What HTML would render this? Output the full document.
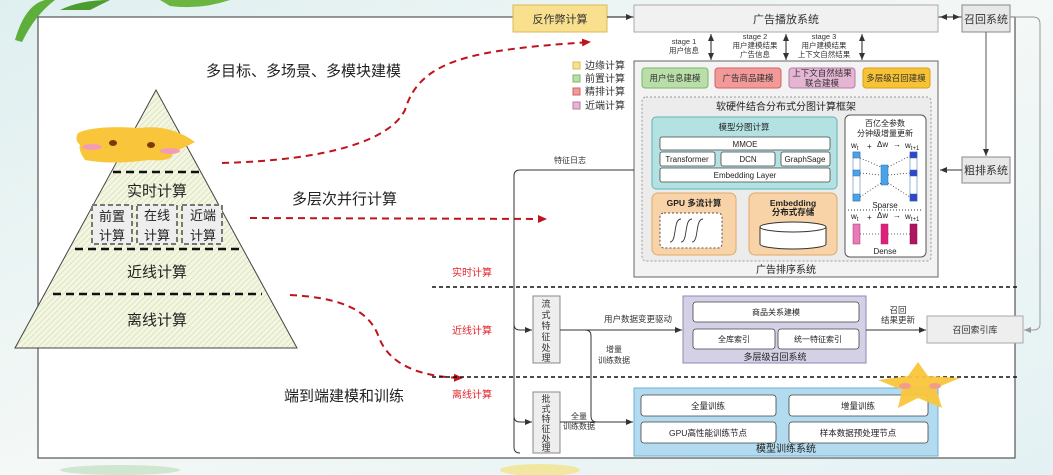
<!DOCTYPE html>
<html><head><meta charset="utf-8">
<style>
html,body{margin:0;padding:0;width:1053px;height:475px;overflow:hidden;background:#fff;}
svg{display:block;font-family:"Liberation Sans","Noto Sans CJK SC",sans-serif;}
</style></head>
<body>
<svg width="1053" height="475" viewBox="0 0 1053 475" xmlns="http://www.w3.org/2000/svg">
<defs>
<linearGradient id="bg" x1="0" y1="0" x2="1" y2="1">
<stop offset="0" stop-color="#dfeff0"/><stop offset="0.5" stop-color="#f4f8f6"/><stop offset="1" stop-color="#e3f1f4"/>
</linearGradient>
<pattern id="hatch" width="4" height="4" patternUnits="userSpaceOnUse" patternTransform="rotate(45)">
<rect width="4" height="4" fill="#f4f6e4"/><line x1="0" y1="0" x2="0" y2="4" stroke="#d7e0b0" stroke-width="1.5"/>
</pattern>
<marker id="ab" markerWidth="8" markerHeight="8" refX="7" refY="4" orient="auto" markerUnits="userSpaceOnUse"><path d="M0,1 L7,4 L0,7 z" fill="#333"/></marker>
<marker id="as" markerWidth="8" markerHeight="8" refX="1" refY="4" orient="auto" markerUnits="userSpaceOnUse"><path d="M8,1 L1,4 L8,7 z" fill="#333"/></marker>
<marker id="ar" markerWidth="10" markerHeight="10" refX="8" refY="5" orient="auto" markerUnits="userSpaceOnUse"><path d="M0,1 L9,5 L0,9 z" fill="#c0141c"/></marker>
<marker id="ag" markerWidth="8" markerHeight="8" refX="7" refY="4" orient="auto" markerUnits="userSpaceOnUse"><path d="M0,1 L7,4 L0,7 z" fill="#999"/></marker>
</defs>
<rect width="1053" height="475" fill="url(#bg)"/>
<!-- leaves -->
<path d="M15,40 Q25,5 45,0 L55,0 Q35,15 22,42 z" fill="#5dae3a"/>
<path d="M60,10 Q80,0 110,0 L90,10 z" fill="#4c9c30"/>
<path d="M160,0 L230,0 Q200,10 170,6 z" fill="#6bb640"/>
<ellipse cx="540" cy="470" rx="40" ry="6" fill="#f2e7a0"/>
<ellipse cx="120" cy="470" rx="60" ry="5" fill="#cfe7d0"/>
<!-- main frame -->
<rect x="38" y="17" width="977" height="441" fill="#fff" stroke="#555" stroke-width="1.2"/>

<!-- pyramid -->
<polygon points="156,90 15,348 297,348" fill="url(#hatch)" stroke="#444" stroke-width="1"/>
<g stroke="#111" stroke-width="2.5" stroke-dasharray="8,5">
<line x1="113" y1="172" x2="203" y2="172"/>
<line x1="75" y1="249" x2="243" y2="249"/>
<line x1="53" y1="294" x2="262" y2="294"/>
</g>
<g font-size="15" fill="#222" text-anchor="middle">
<text x="157" y="196">实时计算</text>
<text x="157" y="277">近线计算</text>
<text x="157" y="325">离线计算</text>
</g>
<g fill="#eee" stroke="#777" stroke-width="2" stroke-dasharray="5,3">
<rect x="92" y="205" width="40" height="39"/><rect x="137" y="205" width="40" height="39"/><rect x="182" y="205" width="40" height="39"/>
</g>
<g font-size="13" fill="#222" text-anchor="middle">
<text x="112" y="221">前置</text><text x="112" y="240">计算</text>
<text x="157" y="220">在线</text><text x="157" y="240">计算</text>
<text x="203" y="220">近端</text><text x="203" y="240">计算</text>
</g>
<!-- star blob -->
<path d="M78,133 Q95,125 140,128 Q170,124 195,142 Q180,150 172,152 Q175,162 150,160 Q110,165 85,160 Q78,150 80,145 Q74,140 78,133z" fill="#f9c63b"/>
<ellipse cx="113" cy="143" rx="4" ry="3" fill="#7a3a0a"/><ellipse cx="151" cy="145" rx="4" ry="3" fill="#7a3a0a"/>
<ellipse cx="92" cy="147" rx="10" ry="3" fill="#f49cb5"/><ellipse cx="170" cy="151" rx="10" ry="3" fill="#f49cb5"/>

<!-- big labels -->
<g font-size="15" fill="#222">
<text x="206" y="76">多目标、多场景、多模块建模</text>
<text x="292" y="204">多层次并行计算</text>
<text x="284" y="401">端到端建模和训练</text>
</g>
<!-- red dashed curves -->
<g fill="none" stroke="#c0141c" stroke-width="2" stroke-dasharray="7,5">
<path d="M222,163 C330,160 390,140 405,110 C420,60 470,50 590,42" marker-end="url(#ar)"/>
<path d="M250,218 L546,219" marker-end="url(#ar)"/>
<path d="M290,295 C350,298 370,315 378,335 C390,370 430,377 462,378" marker-end="url(#ar)"/>
</g>

<!-- layer separators -->
<g stroke="#111" stroke-width="1.5" stroke-dasharray="4,3">
<line x1="432" y1="287" x2="1019" y2="287"/>
<line x1="432" y1="377" x2="1019" y2="377"/>
</g>
<g font-size="10" fill="#e3242b" text-anchor="middle">
<text x="472" y="276">实时计算</text>
<text x="472" y="334">近线计算</text>
<text x="472" y="398">离线计算</text>
</g>

<!-- top row -->
<rect x="513" y="5" width="94" height="27" fill="#f8e08e" stroke="#d9bb55"/>
<text x="560" y="23" font-size="11" text-anchor="middle" fill="#333">反作弊计算</text>
<line x1="607" y1="17" x2="633" y2="17" stroke="#333" marker-end="url(#ab)"/>
<rect x="634" y="5" width="304" height="27" fill="#f1f1f1" stroke="#aaa"/>
<text x="786" y="23" font-size="11" text-anchor="middle" fill="#333">广告播放系统</text>
<line x1="940" y1="17" x2="960" y2="17" stroke="#333" marker-start="url(#as)" marker-end="url(#ab)"/>
<rect x="962" y="5" width="48" height="27" fill="#e8e8e8" stroke="#888"/>
<text x="986" y="23" font-size="11" text-anchor="middle" fill="#333">召回系统</text>
<path d="M1010,17 L1033,17 Q1040,17 1040,24 L1040,324 Q1040,330 1033,330 L1024,330" fill="none" stroke="#999" marker-end="url(#ag)"/>
<line x1="986" y1="32" x2="986" y2="156" stroke="#555" marker-end="url(#ab)"/>
<rect x="962" y="157" width="48" height="26" fill="#e8e8e8" stroke="#888"/>
<text x="986" y="174" font-size="11" text-anchor="middle" fill="#333">粗排系统</text>
<line x1="962" y1="170" x2="940" y2="170" stroke="#333" marker-end="url(#ab)"/>

<!-- stage arrows -->
<g stroke="#222">
<line x1="711" y1="34" x2="711" y2="60" marker-start="url(#as)" marker-end="url(#ab)"/>
<line x1="786" y1="34" x2="786" y2="60" marker-start="url(#as)" marker-end="url(#ab)"/>
<line x1="862" y1="34" x2="862" y2="60" marker-start="url(#as)" marker-end="url(#ab)"/>
</g>
<g font-size="7.5" fill="#333" text-anchor="middle">
<text x="684" y="44">stage 1</text><text x="684" y="53">用户信息</text>
<text x="755" y="39">stage 2</text><text x="755" y="48">用户建模结果</text><text x="755" y="57">广告信息</text>
<text x="824" y="39">stage 3</text><text x="824" y="48">用户建模结果</text><text x="824" y="57">上下文自然结果</text>
</g>

<!-- legend -->
<g font-size="10" fill="#333">
<rect x="573" y="62" width="7" height="7" fill="#f8e08e" stroke="#d9bb55"/><text x="585" y="69">边缘计算</text>
<rect x="573" y="75" width="7" height="7" fill="#b9dea9" stroke="#7db66a"/><text x="585" y="82">前置计算</text>
<rect x="573" y="88" width="7" height="7" fill="#f29a9a" stroke="#d56060"/><text x="585" y="95">精排计算</text>
<rect x="573" y="102" width="7" height="7" fill="#e5b5d4" stroke="#b57ca3"/><text x="585" y="109">近端计算</text>
</g>

<!-- ranking system -->
<rect x="634" y="61" width="304" height="216" fill="#f3f3f3" stroke="#666"/>
<text x="786" y="273" font-size="10" text-anchor="middle" fill="#222">广告排序系统</text>
<rect x="642" y="68" width="66" height="20" rx="3" fill="#b9dea9" stroke="#7db66a"/>
<text x="675" y="81" font-size="8.5" text-anchor="middle" fill="#333">用户信息建模</text>
<rect x="715" y="68" width="66" height="20" rx="3" fill="#f29a9a" stroke="#d56060"/>
<text x="748" y="81" font-size="8.5" text-anchor="middle" fill="#333">广告商品建模</text>
<rect x="789" y="68" width="66" height="20" rx="3" fill="#e5b5d4" stroke="#b57ca3"/>
<text x="822" y="76" font-size="8.5" text-anchor="middle" fill="#333">上下文自然结果</text>
<text x="822" y="86" font-size="8.5" text-anchor="middle" fill="#333">联合建模</text>
<rect x="863" y="68" width="67" height="20" rx="3" fill="#f7c234" stroke="#d9a020"/>
<text x="896" y="81" font-size="8.5" text-anchor="middle" fill="#333">多层级召回建模</text>

<rect x="642" y="97" width="289" height="164" rx="4" fill="#ececec" stroke="#999" stroke-dasharray="2,2"/>
<text x="786" y="110" font-size="10" text-anchor="middle" fill="#222">软硬件结合分布式分图计算框架</text>

<rect x="652" y="117" width="185" height="72" rx="4" fill="#b4e2e3" stroke="#5db5b7"/>
<text x="744" y="130" font-size="8.5" text-anchor="middle" fill="#222">模型分图计算</text>
<g fill="#fff" stroke="#444" stroke-width="0.8">
<rect x="660" y="137" width="170" height="13" rx="2"/>
<rect x="660" y="152" width="55" height="14" rx="2"/>
<rect x="721" y="152" width="54" height="14" rx="2"/>
<rect x="781" y="152" width="49" height="14" rx="2"/>
<rect x="660" y="168" width="170" height="14" rx="2"/>
</g>
<g font-size="8" text-anchor="middle" fill="#222">
<text x="745" y="147">MMOE</text>
<text x="687" y="162">Transformer</text>
<text x="748" y="162">DCN</text>
<text x="805" y="162">GraphSage</text>
<text x="745" y="178">Embedding Layer</text>
</g>
<rect x="652" y="193" width="84" height="62" rx="6" fill="#f8d3a8" stroke="#e0a868"/>
<text x="694" y="206" font-size="8.5" font-weight="bold" text-anchor="middle" fill="#222">GPU 多流计算</text>
<rect x="660" y="213" width="62" height="35" rx="4" fill="#fff" stroke="#555" stroke-dasharray="2,2"/>
<g fill="none" stroke="#333" stroke-width="0.9">
<path d="M670,242 C677,242 673,219 681,219"/><path d="M681,242 C688,242 684,219 692,219"/><path d="M692,242 C699,242 695,219 703,219"/>
</g>
<rect x="749" y="193" width="88" height="62" rx="6" fill="#f8d3a8" stroke="#e0a868"/>
<text x="793" y="206" font-size="8.5" font-weight="bold" text-anchor="middle" fill="#222">Embedding</text>
<text x="793" y="215" font-size="8.5" font-weight="bold" text-anchor="middle" fill="#222">分布式存储</text>
<path d="M760,227 L760,244 A33,5 0 0 0 826,244 L826,227" fill="#fff" stroke="#333"/>
<ellipse cx="793" cy="227" rx="33" ry="5" fill="#fff" stroke="#333"/>

<rect x="845" y="115" width="81" height="142" rx="5" fill="#fff" stroke="#555"/>
<text x="885" y="126" font-size="8" text-anchor="middle" fill="#222">百亿全参数</text>
<text x="885" y="136" font-size="8" text-anchor="middle" fill="#222">分钟级增量更新</text>
<g font-size="8" fill="#222">
<text x="851" y="148">w<tspan font-size="6" dy="2">t</tspan></text><text x="867" y="149">+</text><text x="877" y="147">Δw</text><text x="893" y="147">→</text><text x="905" y="148">w<tspan font-size="6" dy="2">t+1</tspan></text>
<text x="851" y="219">w<tspan font-size="6" dy="2">t</tspan></text><text x="867" y="220">+</text><text x="877" y="218">Δw</text><text x="893" y="218">→</text><text x="905" y="219">w<tspan font-size="6" dy="2">t+1</tspan></text>
</g>
<g stroke="#2a6aa8" stroke-width="0.5">
<rect x="853" y="152" width="7" height="49" fill="#fff"/>
<rect x="853" y="152" width="7" height="6" fill="#4aa3e8"/><rect x="853" y="170" width="7" height="6" fill="#4aa3e8"/><rect x="853" y="194" width="7" height="7" fill="#4aa3e8"/>
<rect x="881" y="165" width="7" height="20" fill="#4aa3e8"/>
<rect x="910" y="152" width="7" height="49" fill="#fff"/>
<rect x="910" y="152" width="7" height="6" fill="#3344cc"/><rect x="910" y="170" width="7" height="6" fill="#3344cc"/><rect x="910" y="194" width="7" height="7" fill="#3344cc"/>
</g>
<g stroke="#333" stroke-width="0.8" stroke-dasharray="1,2" fill="none">
<line x1="860" y1="158" x2="881" y2="167"/><line x1="860" y1="173" x2="881" y2="175"/><line x1="860" y1="197" x2="881" y2="183"/>
<line x1="888" y1="167" x2="910" y2="156"/><line x1="888" y1="175" x2="910" y2="173"/><line x1="888" y1="183" x2="910" y2="197"/>
<line x1="860" y1="234" x2="881" y2="234"/><line x1="888" y1="234" x2="910" y2="234"/>
</g>
<text x="885" y="208" font-size="8" text-anchor="middle" fill="#222">Sparse</text>
<line x1="848" y1="210" x2="923" y2="210" stroke="#333" stroke-dasharray="1,2"/>
<rect x="853" y="224" width="7" height="20" fill="#e87ab8" stroke="#a03070" stroke-width="0.5"/>
<rect x="881" y="224" width="7" height="20" fill="#e0207a" stroke="#a03070" stroke-width="0.5"/>
<rect x="910" y="224" width="7" height="20" fill="#b01560" stroke="#801050" stroke-width="0.5"/>
<text x="885" y="254" font-size="8" text-anchor="middle" fill="#222">Dense</text>

<!-- feature log path -->
<text x="570" y="163" font-size="8" text-anchor="middle" fill="#333">特征日志</text>
<path d="M634,170 L520,170 Q514,170 514,176 L514,447 Q514,453 520,453" fill="none" stroke="#333"/>
<path d="M514,324 Q514,330 520,330 L532,330" fill="none" stroke="#333" marker-end="url(#ab)"/>
<path d="M514,416 Q514,422 520,422 L532,422" fill="none" stroke="#333" marker-end="url(#ab)"/>

<!-- stream / batch boxes -->
<rect x="533" y="296" width="27" height="67" fill="#eee" stroke="#888"/>
<g font-size="9" text-anchor="middle" fill="#333">
<text x="546" y="307">流</text><text x="546" y="318">式</text><text x="546" y="329">特</text><text x="546" y="340">征</text><text x="546" y="351">处</text><text x="546" y="361">理</text>
</g>
<rect x="533" y="392" width="27" height="61" fill="#eee" stroke="#888"/>
<g font-size="9" text-anchor="middle" fill="#333">
<text x="546" y="402">批</text><text x="546" y="412">式</text><text x="546" y="422">特</text><text x="546" y="432">征</text><text x="546" y="442">处</text><text x="546" y="451">理</text>
</g>

<line x1="560" y1="330" x2="682" y2="330" stroke="#333" marker-end="url(#ab)"/>
<text x="638" y="322" font-size="8.5" text-anchor="middle" fill="#333">用户数据变更驱动</text>
<path d="M585,330 Q591,330 591,336 L591,416 Q591,422 597,422" fill="none" stroke="#333"/>
<line x1="560" y1="422" x2="633" y2="422" stroke="#333" marker-end="url(#ab)"/>
<text x="614" y="352" font-size="8" text-anchor="middle" fill="#333">增量</text>
<text x="614" y="363" font-size="8" text-anchor="middle" fill="#333">训练数据</text>
<text x="579" y="419" font-size="8" text-anchor="middle" fill="#333">全量</text>
<text x="579" y="429" font-size="8" text-anchor="middle" fill="#333">训练数据</text>

<!-- recall system -->
<rect x="683" y="296" width="183" height="67" fill="#d4d0e6" stroke="#8f88b5"/>
<g fill="#fff" stroke="#444" stroke-width="0.8">
<rect x="693" y="302" width="166" height="20" rx="3"/>
<rect x="693" y="329" width="82" height="20" rx="3"/>
<rect x="778" y="329" width="81" height="20" rx="3"/>
</g>
<g font-size="8" text-anchor="middle" fill="#222">
<text x="776" y="315">商品关系建模</text>
<text x="734" y="342">全库索引</text>
<text x="818" y="342">统一特征索引</text>
<text x="775" y="360" font-size="9">多层级召回系统</text>
</g>
<line x1="866" y1="330" x2="926" y2="330" stroke="#333" marker-end="url(#ab)"/>
<text x="898" y="313" font-size="8.5" text-anchor="middle" fill="#333">召回</text>
<text x="898" y="323" font-size="8.5" text-anchor="middle" fill="#333">结果更新</text>
<rect x="927" y="316" width="96" height="27" fill="#eee" stroke="#aaa"/>
<text x="975" y="333" font-size="9" text-anchor="middle" fill="#333">召回索引库</text>

<!-- training system -->
<rect x="634" y="388" width="304" height="68" fill="#b3dbef" stroke="#6fb2d4"/>
<g fill="#fff" stroke="#444" stroke-width="0.8">
<rect x="641" y="395" width="135" height="21" rx="3"/>
<rect x="789" y="395" width="139" height="21" rx="3"/>
<rect x="641" y="422" width="135" height="21" rx="3"/>
<rect x="789" y="422" width="139" height="21" rx="3"/>
</g>
<g font-size="8.5" text-anchor="middle" fill="#222">
<text x="708" y="409">全量训练</text>
<text x="858" y="409">增量训练</text>
<text x="708" y="436">GPU高性能训练节点</text>
<text x="858" y="436">样本数据预处理节点</text>
<text x="786" y="452" font-size="10">模型训练系统</text>
</g>
<!-- star bottom right -->
<path d="M918,362 L928,376 L960,378 L936,388 L942,408 L918,398 L898,408 L902,390 L878,380 L908,376 z" fill="#f9c63b" opacity="0.95"/>
<ellipse cx="905" cy="386" rx="6" ry="3" fill="#f49c8a"/><ellipse cx="935" cy="386" rx="6" ry="3" fill="#f49c8a"/>
</svg>
</body></html>
